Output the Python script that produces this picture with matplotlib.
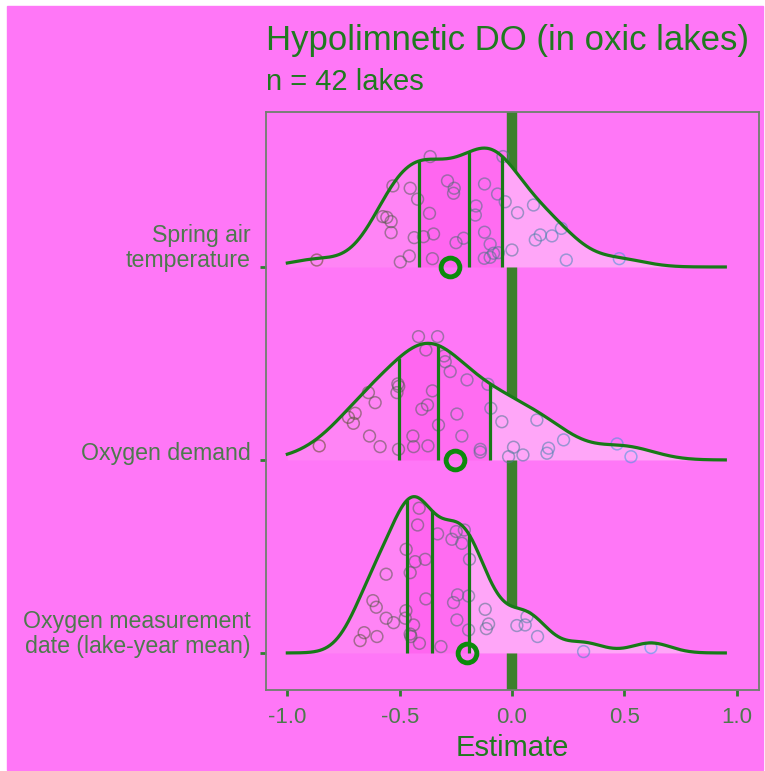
import numpy as np
import matplotlib
matplotlib.use("Agg")
import matplotlib.pyplot as plt
from matplotlib.colors import LinearSegmentedColormap, Normalize
from matplotlib.patches import Rectangle

plt.rcParams['font.family'] = ['Liberation Sans', 'DejaVu Sans']

# predictors, top row first
labels = ["Spring air\ntemperature", "Oxygen demand",
          "Oxygen measurement\ndate (lake-year mean)"]

# per-lake estimates (x) and vertical jitter of the points above each ridge baseline
spring_x = [-0.869, -0.530, -0.453, -0.420, -0.575, -0.557, -0.538, -0.538, -0.497, -0.457,
            -0.435, -0.394, -0.349, -0.367, -0.364, -0.354, -0.287, -0.257, -0.260, -0.249,
            -0.215, -0.160, -0.163, -0.122, -0.122, -0.097, -0.123, -0.097, -0.064, -0.060,
            -0.040, -0.030, 0.000, 0.025, 0.096, 0.104, 0.126, 0.178, 0.220, 0.242,
            0.478, -0.082]
spring_jit = [0.036, 0.420, 0.408, 0.351, 0.261, 0.257, 0.235, 0.178, 0.026, 0.057,
              0.152, 0.157, 0.171, 0.278, 0.572, 0.043, 0.446, 0.408, 0.382, 0.126,
              0.149, 0.316, 0.269, 0.430, 0.180, 0.118, 0.045, 0.050, 0.378, 0.074,
              0.572, 0.338, 0.088, 0.281, 0.321, 0.140, 0.166, 0.161, 0.200, 0.036,
              0.043, 0.071]

demand_x = [-0.858, -0.728, -0.698, -0.706, -0.639, -0.609, -0.634, -0.587, -0.508, -0.504,
            -0.512, -0.505, -0.441, -0.438, -0.416, -0.383, -0.401, -0.376, -0.354, -0.374,
            -0.331, -0.327, -0.302, -0.297, -0.275, -0.245, -0.223, -0.200, -0.141, -0.141,
            -0.107, -0.094, -0.045, -0.015, 0.007, 0.049, 0.111, 0.156, 0.163, 0.230,
            0.468, 0.530]
demand_jit = [0.073, 0.221, 0.242, 0.190, 0.349, 0.297, 0.124, 0.069, 0.394, 0.381,
              0.349, 0.055, 0.124, 0.069, 0.639, 0.570, 0.263, 0.285, 0.358, 0.073,
              0.639, 0.181, 0.539, 0.509, 0.458, 0.238, 0.124, 0.415, 0.055, 0.041,
              0.392, 0.268, 0.198, 0.017, 0.066, 0.026, 0.207, 0.035, 0.061, 0.104,
              0.083, 0.017]

date_x = [-0.676, -0.658, -0.601, -0.619, -0.604, -0.560, -0.560, -0.527, -0.471, -0.472,
          -0.475, -0.453, -0.431, -0.386, -0.438, -0.453, -0.412, -0.413, -0.420, -0.383,
          -0.316, -0.331, -0.267, -0.248, -0.223, -0.212, -0.189, -0.260, -0.242, -0.245,
          -0.193, -0.193, -0.119, -0.104, -0.114, 0.022, 0.059, 0.067, 0.114, 0.319,
          0.619, -0.450]
date_jit = [0.064, 0.105, 0.085, 0.271, 0.237, 0.408, 0.180, 0.157, 0.537, 0.219,
            0.180, 0.416, 0.473, 0.485, 0.145, 0.098, 0.050, 0.750, 0.663, 0.280,
            0.033, 0.617, 0.589, 0.629, 0.568, 0.637, 0.485, 0.261, 0.301, 0.171,
            0.295, 0.119, 0.226, 0.150, 0.126, 0.142, 0.145, 0.188, 0.085, 0.007,
            0.028, 0.085]

# pooled estimate per predictor
pooled = [-0.275, -0.253, -0.200]

title = "Hypolimnetic DO (in oxic lakes)"
subtitle = "n = 42 lakes"
xticks = [-1.0, -0.5, 0.0, 0.5, 1.0]

rows_x = [spring_x, demand_x, date_x]
rows_jit = [spring_jit, demand_jit, date_jit]
baselines = [3, 2, 1]

BG = '#ff77f7'
LINE = '#177a17'
quart_cols = ['#ff84f5', '#ff66f0', '#ff6cf1', '#ffa6f8']
grid_lo, grid_hi = -1.0, 0.95
ridge_scale = 0.81


def kde(vals, x):
    vals = np.asarray(vals)
    n = len(vals)
    iqr = np.subtract(*np.percentile(vals, [75, 25]))
    bw = 0.9 * min(vals.std(ddof=1), iqr / 1.34) * n ** -0.2
    z = (np.asarray(x)[:, None] - vals[None, :]) / bw
    return np.exp(-0.5 * z ** 2).sum(1) / (n * bw * np.sqrt(2 * np.pi))


grid = np.linspace(grid_lo, grid_hi, 512)
peak = max(kde(v, grid).max() for v in rows_x)
height = lambda v, x: kde(v, x) / peak * ridge_scale

allx = np.concatenate(rows_x)
cmap = LinearSegmentedColormap.from_list('est', ['#5c4a22', '#3f9ceb'])
norm = Normalize(allx.min(), allx.max())

fig = plt.figure(figsize=(7.65, 7.71), dpi=100, facecolor='white')
fig.patches.append(Rectangle((7 / 765, 1 / 771), 756 / 765, 764 / 771,
                             transform=fig.transFigure, color=BG, zorder=-10))
ax = fig.add_axes([266 / 765, 81 / 771, 493 / 765, 578 / 771])
ax.set_facecolor(BG)

ax.axvline(0, color='#3c7f2c', lw=7.5, zorder=1)

for vals, jit, y0 in zip(rows_x, rows_jit, baselines):
    qs = np.quantile(vals, [0.25, 0.5, 0.75])
    cuts = [grid_lo, *qs, grid_hi]
    for a, b, c in zip(cuts[:-1], cuts[1:], quart_cols):
        xs = np.linspace(a, b, 200)
        ax.fill_between(xs, y0, y0 + height(vals, xs), color=c, lw=0, zorder=2)
    ax.scatter(vals, y0 + np.asarray(jit), s=72, facecolors='none',
               edgecolors=cmap(norm(vals)), linewidths=1.1, alpha=0.55, zorder=3)
    for q in qs:
        ax.plot([q, q], [y0, y0 + height(vals, [q])[0]], color=LINE, lw=2.3,
                solid_capstyle='butt', zorder=4)
    ax.plot(grid, y0 + height(vals, grid), color=LINE, lw=2.3, zorder=4)

for est, y0 in zip(pooled, baselines):
    ax.plot(est, y0, 'o', ms=13.5, mfc='none', mec='#0c8a0c', mew=3.5, zorder=5)

ax.set_xlim(-1.095, 1.10)
ax.set_ylim(0.808, 3.803)
ax.set_xticks(xticks)
ax.set_xticklabels([f"{t:.1f}" for t in xticks])
ax.set_yticks(baselines)
ax.set_yticklabels(labels)
for lab in ax.get_yticklabels():
    lab.set_va('baseline')
    lab.set_linespacing(1.1)
ax.tick_params(colors='#2f7f2f', width=2, length=4.3, labelsize=16.7,
               labelcolor='#4d7a4d')
ax.tick_params(axis='y', pad=6.8)
ax.tick_params(axis='x', pad=8, labelsize=16)
for sp in ax.spines.values():
    sp.set_color('#6e7f6e')
    sp.set_linewidth(1.3)
ax.set_xlabel("Estimate", fontsize=21, color='#1f7a1f', labelpad=4)

fig.text(266 / 765, 1 - 50 / 771, title, fontsize=25, color='#1f7a1f',
         va='baseline', ha='left')
fig.text(266 / 765, 1 - 90 / 771, subtitle, fontsize=21, color='#1f7a1f',
         va='baseline', ha='left')

fig.savefig('out.png', dpi=100, facecolor=fig.get_facecolor())
